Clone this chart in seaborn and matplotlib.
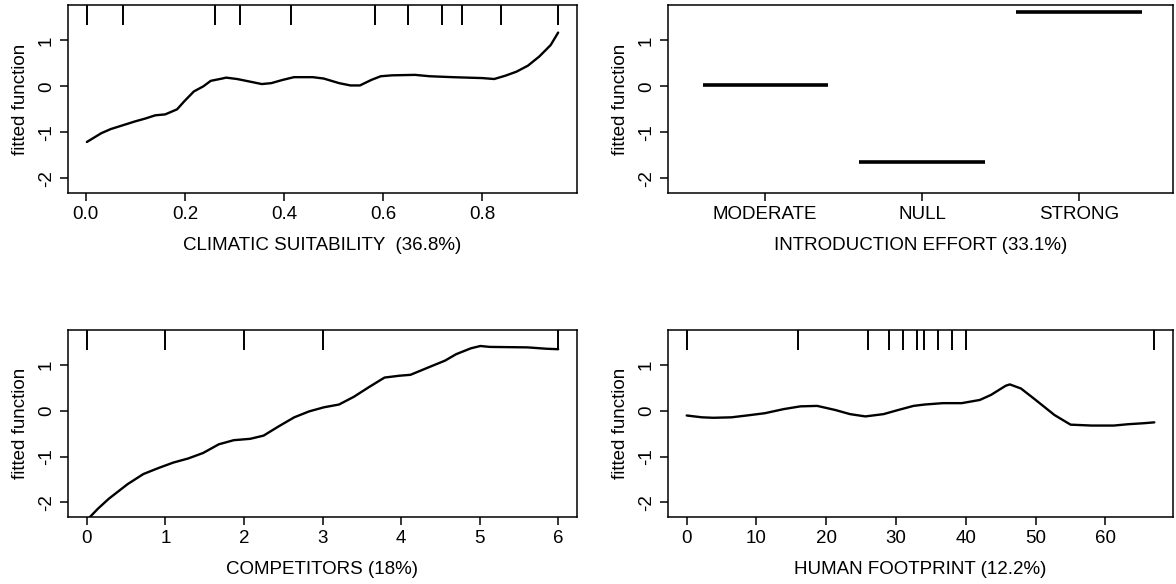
import numpy as np
import pandas as pd
import matplotlib
matplotlib.use("Agg")
import matplotlib.pyplot as plt
import seaborn as sns

# Partial dependence of the fitted function on each predictor
clim_x = [0.002, 0.031, 0.05, 0.10, 0.12, 0.14, 0.16, 0.184, 0.199, 0.218, 0.237, 0.252,
          0.275, 0.283, 0.305, 0.328, 0.355, 0.374, 0.397, 0.42, 0.458, 0.48, 0.511,
          0.534, 0.553, 0.576, 0.595, 0.618, 0.664, 0.694, 0.74, 0.80, 0.824, 0.846,
          0.869, 0.892, 0.915, 0.938, 0.953]
clim_y = [-1.21, -1.02, -0.93, -0.76, -0.70, -0.63, -0.61, -0.50, -0.32, -0.11, 0.0, 0.12,
          0.17, 0.19, 0.16, 0.11, 0.05, 0.07, 0.14, 0.20, 0.20, 0.17, 0.07,
          0.02, 0.02, 0.14, 0.22, 0.24, 0.25, 0.22, 0.20, 0.18, 0.16, 0.23,
          0.32, 0.45, 0.65, 0.90, 1.17]
clim_rug = [0.002, 0.075, 0.26, 0.311, 0.414, 0.584, 0.651, 0.719, 0.759, 0.837, 0.953]

effort_levels = ["MODERATE", "NULL", "STRONG"]
effort_y = [0.02, -1.64, 1.62]

comp_x = [0.0, 0.14, 0.28, 0.52, 0.72, 0.91, 1.10, 1.29, 1.48, 1.68, 1.87, 2.08, 2.25,
          2.44, 2.64, 2.83, 3.02, 3.21, 3.40, 3.60, 3.79, 3.98, 4.12, 4.36, 4.56,
          4.70, 4.89, 5.01, 5.13, 5.61, 5.85, 6.0]
comp_y = [-2.39, -2.14, -1.92, -1.60, -1.38, -1.25, -1.13, -1.04, -0.92, -0.73, -0.64,
          -0.61, -0.54, -0.34, -0.14, -0.01, 0.08, 0.14, 0.31, 0.53, 0.73, 0.77, 0.79,
          0.96, 1.10, 1.24, 1.37, 1.42, 1.40, 1.39, 1.36, 1.35]
comp_rug = [0, 1, 2, 3, 6]

foot_x = [0.0, 2.2, 3.8, 6.4, 8.6, 11.2, 13.9, 16.3, 18.7, 21.3, 23.4, 25.6, 28.2, 30.3,
          32.5, 34.1, 36.7, 39.4, 42.0, 43.6, 45.7, 46.3, 47.9, 50.0, 52.7, 55.0,
          58.0, 61.2, 63.3, 65.4, 67.0]
foot_y = [-0.10, -0.14, -0.15, -0.14, -0.10, -0.05, 0.04, 0.10, 0.11, 0.02, -0.07, -0.12,
          -0.07, 0.02, 0.11, 0.14, 0.17, 0.17, 0.24, 0.35, 0.55, 0.58, 0.49, 0.24,
          -0.09, -0.30, -0.32, -0.32, -0.29, -0.27, -0.25]
foot_rug = [0, 16, 26, 29, 31, 33, 34, 36, 38, 40, 67]

xlabels = ["CLIMATIC SUITABILITY  (36.8%)", "INTRODUCTION EFFORT (33.1%)",
           "COMPETITORS (18%)", "HUMAN FOOTPRINT (12.2%)"]

sns.set_theme(style="ticks")
plt.rcParams["font.family"] = ["Liberation Sans", "DejaVu Sans"]
plt.rcParams.update({
    "axes.edgecolor": "black", "axes.linewidth": 1.1,
    "xtick.color": "black", "ytick.color": "black",
    "xtick.major.size": 5.5, "ytick.major.size": 5.5,
    "xtick.major.width": 1.1, "ytick.major.width": 1.1,
    "xtick.major.pad": 4, "ytick.major.pad": 4,
    "xtick.labelsize": 13.5, "ytick.labelsize": 13.5,
    "axes.labelsize": 13.5, "text.color": "black", "axes.labelcolor": "black",
})

fig = plt.figure(figsize=(11.76, 5.84), dpi=100)
W, H = 1176, 584
boxes = [(68, 5, 577, 193), (668, 5, 1173, 193), (68, 330, 577, 517), (668, 330, 1173, 517)]
axes = [fig.add_axes([l / W, 1 - b / H, (r - l) / W, (b - t) / H]) for l, t, r, b in boxes]

YLIM = (-2.32, 1.77)


def r_lim(vals):
    lo, hi = min(vals), max(vals)
    pad = 0.04 * (hi - lo)
    return lo - pad, hi + pad


def draw_rug(ax, vals):
    ax.vlines(vals, 1 - 0.107, 1, transform=ax.get_xaxis_transform(),
              colors="black", linewidth=1.4)


def style(ax, label):
    ax.set_ylim(*YLIM)
    ax.set_yticks([-2, -1, 0, 1])
    ax.set_yticklabels(["-2", "-1", "0", "1"], rotation=90, va="center")
    ax.set_ylabel("fitted function", labelpad=6)
    ax.set_xlabel(label, labelpad=10)
    for s in ax.spines.values():
        s.set_visible(True)


# Climatic suitability
ax = axes[0]
sns.lineplot(x=clim_x, y=clim_y, ax=ax, color="black", linewidth=1.7, sort=False)
draw_rug(ax, clim_rug)
ax.set_xlim(*r_lim(clim_x))
ax.set_xticks([0.0, 0.2, 0.4, 0.6, 0.8])
ax.set_xticklabels(["0.0", "0.2", "0.4", "0.6", "0.8"])
style(ax, xlabels[0])

# Introduction effort (categorical)
ax = axes[1]
pos = np.arange(1, len(effort_levels) + 1)
ax.hlines(effort_y, pos - 0.4, pos + 0.4, colors="black", linewidth=2.6)
ax.set_xlim(0.38, 3.6)
ax.set_xticks(pos)
ax.set_xticklabels(effort_levels)
style(ax, xlabels[1])

# Competitors
ax = axes[2]
sns.lineplot(x=comp_x, y=comp_y, ax=ax, color="black", linewidth=1.7, sort=False)
draw_rug(ax, comp_rug)
ax.set_xlim(*r_lim(comp_x))
ax.set_xticks(range(0, 7))
style(ax, xlabels[2])

# Human footprint
ax = axes[3]
sns.lineplot(x=foot_x, y=foot_y, ax=ax, color="black", linewidth=1.7, sort=False)
draw_rug(ax, foot_rug)
ax.set_xlim(*r_lim(foot_x))
ax.set_xticks([0, 10, 20, 30, 40, 50, 60])
style(ax, xlabels[3])

fig.savefig("out.png", dpi=100, facecolor="white")
